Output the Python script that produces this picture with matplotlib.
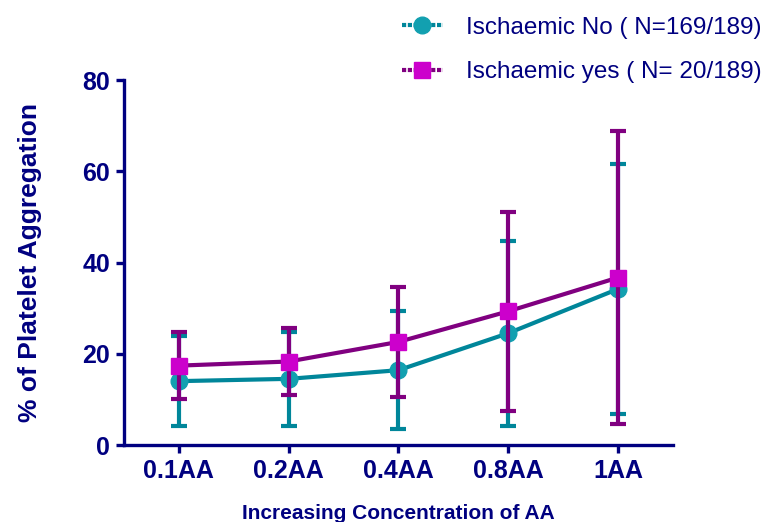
import matplotlib
matplotlib.use('Agg')
import matplotlib.pyplot as plt
from matplotlib.lines import Line2D

# data (mean +/- SD)
concentrations = ['0.1AA', '0.2AA', '0.4AA', '0.8AA', '1AA']
no_mean = [14.0, 14.5, 16.4, 24.5, 34.2]
no_sd = [9.8, 10.3, 12.9, 20.3, 27.3]
yes_mean = [17.4, 18.3, 22.6, 29.3, 36.7]
yes_sd = [7.4, 7.4, 12.1, 21.8, 32.1]
labels = ['Ischaemic No ( N=169/189)', 'Ischaemic yes ( N= 20/189)']

navy = '#000080'
teal_line = '#00869A'
teal_face = '#12A0B0'
purple_line = '#800080'
purple_face = '#CC00CC'

plt.rcParams['font.family'] = ['Liberation Sans', 'DejaVu Sans']

fig = plt.figure(figsize=(7.77, 5.22), dpi=100)
ax = fig.add_axes([0.1596, 0.1475, 0.7064, 0.6992])

x = range(len(concentrations))

ax.errorbar(x, no_mean, yerr=no_sd, color=teal_line, linewidth=3, elinewidth=3,
            capsize=5.5, capthick=3, marker='o', markersize=12,
            markerfacecolor=teal_face, markeredgecolor=teal_face, zorder=2)
ax.errorbar(x, yes_mean, yerr=yes_sd, color=purple_line, linewidth=3, elinewidth=3,
            capsize=5.5, capthick=3, marker='s', markersize=11.5,
            markerfacecolor=purple_face, markeredgecolor=purple_face, zorder=3)

ax.set_xlim(-0.5, 4.5)
ax.set_ylim(0, 80)
ax.set_yticks([0, 20, 40, 60, 80])
ax.set_xticks(list(x))
ax.set_xticklabels(concentrations)

for side in ['top', 'right']:
  ax.spines[side].set_visible(False)
for side in ['left', 'bottom']:
  ax.spines[side].set_color(navy)
  ax.spines[side].set_linewidth(2.4)

ax.tick_params(axis='both', colors=navy, width=2.4, length=6, labelsize=18, pad=4)
for lab in ax.get_xticklabels() + ax.get_yticklabels():
  lab.set_fontweight('bold')

ax.set_ylabel('% of Platelet Aggregation', fontsize=19, fontweight='bold',
              color=navy, labelpad=29)
ax.set_xlabel('Increasing Concentration of AA', fontsize=15, fontweight='bold',
              color=navy, labelpad=15)

# legend handles: line + marker, no error bars
handles = [
  Line2D([], [], color=teal_line, linewidth=3, linestyle=(0, (1, 0.4)), marker='o', markersize=12,
         markerfacecolor=teal_face, markeredgecolor=teal_face),
  Line2D([], [], color=purple_line, linewidth=3, linestyle=(0, (1, 0.4)), marker='s', markersize=11.5,
         markerfacecolor=purple_face, markeredgecolor=purple_face),
]
leg = fig.legend(handles, labels, loc='upper left', bbox_to_anchor=(392 / 777, 1 - 7 / 522),
                 frameon=False, fontsize=17.5, handlelength=1.7, handletextpad=0.95,
                 labelspacing=0.92, borderaxespad=0.1, borderpad=0.3)
for t in leg.get_texts():
  t.set_color(navy)

fig.savefig('out.png', dpi=100)
